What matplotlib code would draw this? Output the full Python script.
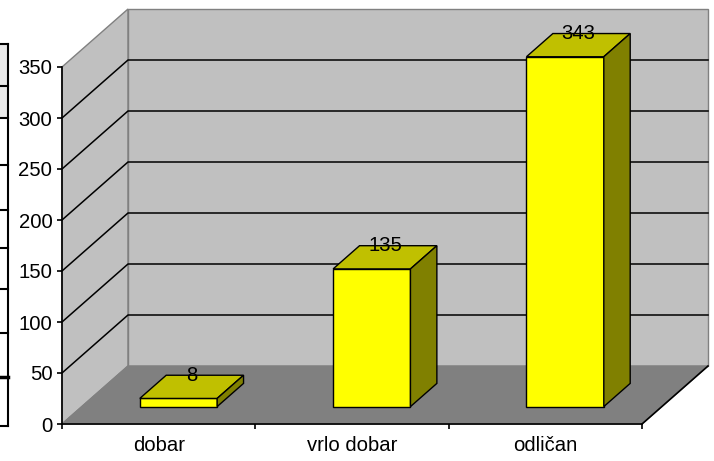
import matplotlib
matplotlib.use("Agg")
import matplotlib.pyplot as plt
from matplotlib.patches import Polygon
from matplotlib.lines import Line2D

plt.rcParams["font.family"] = ["Liberation Sans", "DejaVu Sans"]

# data
categories = ["dobar", "vrlo dobar", "odličan"]
values = [8, 135, 343]
y_ticks = [0, 50, 100, 150, 200, 250, 300, 350]

W, H = 714, 461
FS = 14.6
fig = plt.figure(figsize=(W / 100, H / 100), dpi=100)
fig.patch.set_facecolor("white")

# front plane of the 3D box, in pixels
ax = fig.add_axes([62 / W, (H - 424) / H, 580 / W, 357 / H])
ax.set_xlim(0, len(categories))
ax.set_ylim(0, 350)
ax.patch.set_visible(False)

# oblique depth offset (66 px right, 58 px up) in data units
DX = 66 / 580 * len(categories)
DY = 58 / 357 * 350


def P(x, y, d):
    return (x + d * DX, y + d * DY)


def poly(pts, fc, ec, lw=1.0, z=1):
    ax.add_patch(Polygon(pts, closed=True, facecolor=fc, edgecolor=ec,
                         linewidth=lw, clip_on=False, zorder=z))


n = len(categories)
top = y_ticks[-1]
WALL = "#c0c0c0"
EDGE = "#808080"

# walls and floor
poly([P(0, 0, 0), P(0, top, 0), P(0, top, 1), P(0, 0, 1)], WALL, EDGE)
poly([P(0, 0, 1), P(n, 0, 1), P(n, top, 1), P(0, top, 1)], WALL, EDGE)
poly([P(0, 0, 0), P(n, 0, 0), P(n, 0, 1), P(0, 0, 1)], "#808080", EDGE)
xs, ys = zip(P(n, 0, 0), P(n, 0, 1))
ax.plot(xs, ys, color="black", lw=1.2, clip_on=False, zorder=2)

# gridlines on side + back wall
for v in y_ticks[1:-1]:
    pts = [P(0, v, 0), P(0, v, 1), P(n, v, 1)]
    xs, ys = zip(*pts)
    ax.plot(xs, ys, color="black", lw=1.1, clip_on=False, zorder=2)

# bars
d0, d1 = 0.3, 0.7
bw = 0.4
for i, v in enumerate(values):
    x0 = i + (1 - bw) / 2
    x1 = x0 + bw
    poly([P(x0, 0, d0), P(x1, 0, d0), P(x1, v, d0), P(x0, v, d0)],
         "#ffff00", "black", 1.0, 3)
    poly([P(x0, v, d0), P(x1, v, d0), P(x1, v, d1), P(x0, v, d1)],
         "#c0c000", "black", 1.0, 3)
    poly([P(x1, 0, d0), P(x1, 0, d1), P(x1, v, d1), P(x1, v, d0)],
         "#808000", "black", 1.0, 3)
    lx, ly = P(i + 0.5, v, d1)
    ax.text(i + 0.5 + 0.5 * DX, ly, str(v), ha="center", va="center",
            fontsize=FS, color="black", zorder=4, clip_on=False)

# axes
for s in ["top", "right"]:
    ax.spines[s].set_visible(False)
for s in ["left", "bottom"]:
    ax.spines[s].set_color("black")
    ax.spines[s].set_linewidth(1.2)
    ax.spines[s].set_zorder(5)

ax.set_yticks(y_ticks)
ax.tick_params(axis="y", direction="out", length=3.6, width=1.2,
               labelsize=FS, pad=3.4, colors="black")
ax.set_xticks(range(n + 1))
ax.set_xticklabels([])
ax.set_xticks([i + 0.5 for i in range(n)], minor=True)
ax.set_xticklabels(categories, minor=True)
ax.tick_params(axis="x", which="major", direction="out", length=3.6, width=1.2)
ax.tick_params(axis="x", which="minor", length=0, labelsize=FS, pad=8.5)

# fragment of the neighbouring table at the left edge
table_rows = [44, 86, 118, 165, 210, 248, 289, 333, 377, 426]
fig.add_artist(Polygon([(0, 1 - 44 / H), (8 / W, 1 - 44 / H),
                        (8 / W, 1 - 118 / H), (0, 1 - 118 / H)],
                       closed=True, facecolor="#e8e8e8", edgecolor="none",
                       transform=fig.transFigure))
fig.add_artist(Line2D([8 / W, 8 / W], [1 - 44 / H, 1 - 426 / H],
                      color="black", lw=1.5, transform=fig.transFigure))
for r in table_rows:
    fig.add_artist(Line2D([0, 8 / W], [1 - r / H, 1 - r / H], color="black",
                          lw=1.5 if r != 377 else 2.5,
                          transform=fig.transFigure))

fig.savefig("out.png", dpi=100, facecolor="white")
